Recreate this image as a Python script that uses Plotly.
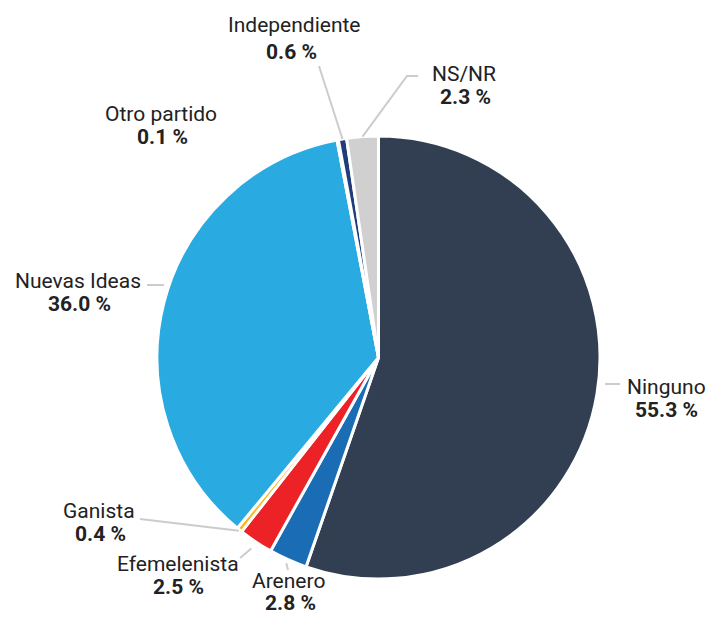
import math
import plotly.graph_objects as go

# ---- data ----
parties = ["Ninguno", "Arenero", "Efemelenista", "Ganista", "Nuevas Ideas",
           "Otro partido", "Independiente", "NS/NR"]
values = [55.3, 2.8, 2.5, 0.4, 36.0, 0.1, 0.6, 2.3]
value_labels = ["55.3 %", "2.8 %", "2.5 %", "0.4 %", "36.0 %", "0.1 %", "0.6 %", "2.3 %"]
colors = ["#323e52", "#1a6db4", "#ec2227", "#f9b81c", "#29abe2",
          "#9a9a9a", "#1f3d7a", "#d0d0d0"]

W, H = 706, 617
CX, CY, R = 378.5, 357.5, 221.5

# label layout (pixel positions of name / value text centres, leader style)
label_cfg = {
    "Ninguno":      dict(name=(666, 387), val=(666, 410), line=("h", 384, 605, 620)),
    "Arenero":      dict(name=(288, 580.5), val=(290, 603), line=("r", 4, (288, 570))),
    "Efemelenista": dict(name=(178, 563.5), val=(179, 586.5), line=("r", 8, (240, 558))),
    "Ganista":      dict(name=(99, 511),  val=(100, 534), line=("r", 1, (140, 519))),
    "Nuevas Ideas": dict(name=(78, 281),  val=(79, 304),  line=("h", 285, 147, 164)),
    "Otro partido": dict(name=(161, 114), val=(162, 137), line=None),
    "Independiente": dict(name=(294, 25), val=(291, 52),  line=("r", 0, (319, 66))),
    "NS/NR":        dict(name=(464, 73.5),  val=(465, 96.5),  line=("r", 0, (407, 76), (418, 76))),
}

def px(x, y):
    return x / W, 1 - y / H

fig = go.Figure(go.Pie(
    labels=parties, values=values, sort=False, direction="clockwise", rotation=0,
    marker=dict(colors=colors, line=dict(color="white", width=3)),
    textinfo="none", showlegend=False,
    domain=dict(x=[(CX - R) / W, (CX + R) / W], y=[1 - (CY + R) / H, 1 - (CY - R) / H]),
))

total = sum(values)
cum = 0.0
annotations = []
shapes = []
font_name = dict(family="Roboto, Arial, sans-serif", size=21, color="#222222")
for p, v, vl in zip(parties, values, value_labels):
    mid = (cum + v / 2) / total * 2 * math.pi
    cum += v
    cfg = label_cfg[p]
    for key, txt in (("name", p), ("val", "<b>" + vl + "</b>")):
        x, y = px(*cfg[key])
        annotations.append(dict(x=x, y=y, xref="paper", yref="paper", text=txt,
                                showarrow=False, xanchor="center", yanchor="middle",
                                borderpad=0, font=font_name))
    ln = cfg["line"]
    if ln is None:
        continue
    if ln[0] == "h":
        pts = [(ln[2], ln[1]), (ln[3], ln[1])]
    else:
        rr = R + ln[1]
        start = (CX + rr * math.sin(mid), CY - rr * math.cos(mid))
        pts = [start] + list(ln[2:])
    path = "M " + " L ".join("%f,%f" % px(*pt) for pt in pts)
    shapes.append(dict(type="path", path=path, xref="paper", yref="paper",
                       line=dict(color="#cccccc", width=2)))

fig.update_layout(width=W, height=H, margin=dict(l=0, r=0, t=0, b=0),
                  paper_bgcolor="white", plot_bgcolor="white",
                  annotations=annotations, shapes=shapes,
                  font=dict(family="Roboto, Arial, sans-serif"))
fig.write_html("out.html", config={"displayModeBar": False},
               post_script="document.body.style.margin='0';document.body.style.padding='0';")
